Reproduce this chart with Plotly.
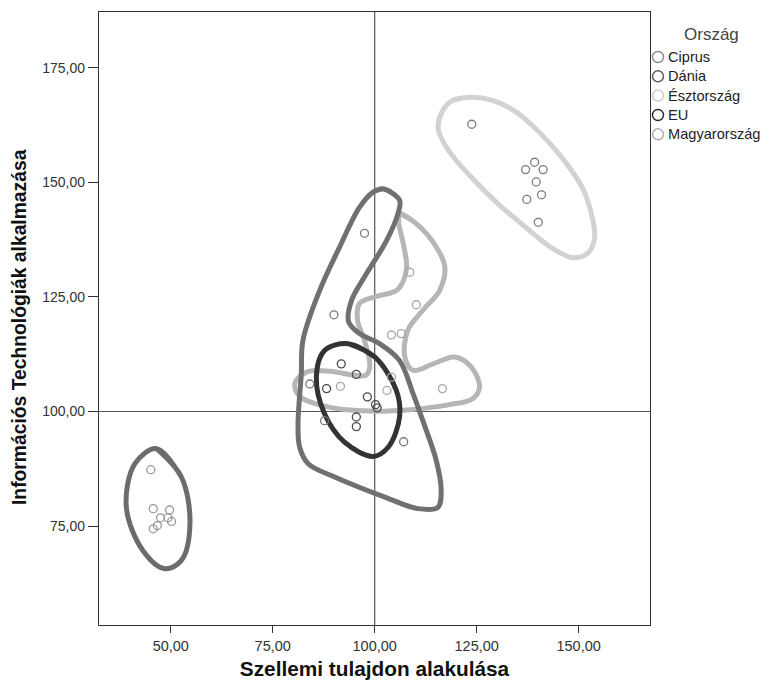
import plotly.graph_objects as go

# ---------------- data ----------------
series_names = ["Ciprus", "Dánia", "Észtország", "EU", "Magyarország"]
legend_colors = ["#8a8a8a", "#5a5a5a", "#c8c8c8", "#2a2a2a", "#ababab"]
point_colors = ["#9a9a9a", "#7a7a7a", "#7c7c7c", "#4a4a4a", "#a8a8a8"]
contour_colors = ["#6c6c6c", "#707070", "#d2d2d2", "#333333", "#b6b6b6"]

ciprus_x = [45.1, 45.7, 47.5, 49.7, 49.3, 45.7, 46.7, 50.2]
ciprus_y = [87.3, 78.8, 76.8, 78.5, 76.8, 74.4, 75.1, 76.0]

dania_x = [97.5, 90.0, 84.1, 87.7, 107.1]
dania_y = [138.9, 121.1, 106.0, 98.0, 93.4]

esztorszag_x = [123.8, 139.2, 137.0, 141.3, 139.6, 140.9, 137.3, 140.1]
esztorszag_y = [162.7, 154.4, 152.8, 152.8, 150.1, 147.3, 146.3, 141.3]

eu_x = [91.8, 95.5, 88.2, 98.2, 100.2, 100.6, 95.5, 95.5]
eu_y = [110.4, 108.1, 105.0, 103.2, 101.5, 100.8, 98.8, 96.7]

magyar_x = [108.6, 110.2, 104.1, 106.5, 104.1, 91.6, 103.0, 116.6]
magyar_y = [130.4, 123.3, 116.7, 117.0, 107.5, 105.5, 104.6, 105.0]

# contour outlines (data coordinates)
ciprus_cx = [46.5, 52.6, 54.7, 52.6, 48.5, 43.2, 39.1, 41.2]
ciprus_cy = [91.9, 85.7, 75.5, 67.5, 65.7, 69.6, 79.1, 88.6]

dania_cx = [99.6, 102.0, 106.1, 105.7, 102.9, 98.0, 94.3, 93.6, 96.3, 101.2, 106.1,
            109.4, 111.8, 115.1, 116.3, 115.5, 110.6, 102.5, 90.2, 83.7, 81.6, 81.2,
            82.0, 82.4, 86.5, 91.4, 96.3]
dania_cy = [147.9, 148.6, 146.1, 143.2, 137.3, 130.1, 124.2, 119.6, 117.0, 114.8, 111.1,
            103.9, 98.0, 89.3, 82.8, 79.1, 78.8, 81.3, 85.7, 88.6, 92.2, 97.3,
            108.2, 115.5, 126.4, 135.9, 144.6]

esztorszag_cx = [119.1, 123.3, 128.9, 134.8, 140.4, 146.1, 151.0, 153.4, 153.9, 152.2,
                 148.5, 143.6, 137.3, 129.9, 123.3, 118.4, 115.6, 116.4]
esztorszag_cy = [167.9, 168.6, 167.9, 165.3, 160.9, 155.2, 148.7, 142.1, 137.8, 134.5,
                 133.6, 135.6, 140.0, 145.6, 151.5, 156.6, 161.5, 165.2]

eu_cx = [93.5, 100.0, 105.3, 106.1, 103.3, 99.6, 92.6, 87.7, 85.7, 87.7]
eu_cy = [114.8, 111.9, 104.6, 98.8, 92.2, 90.2, 93.3, 99.5, 107.5, 113.3]

magyar_cx = [106.1, 110.2, 115.1, 117.2, 115.9, 111.8, 108.1, 107.4, 109.4, 114.3, 119.6,
             123.7, 125.7, 124.0, 118.4, 108.6, 98.8, 89.0, 81.6, 80.4, 83.3, 89.0, 95.1,
             97.8, 98.8, 97.5, 95.8, 96.3, 100.4, 105.6, 107.8, 107.1, 105.9]
magyar_cy = [143.2, 141.0, 135.9, 131.5, 126.4, 122.1, 117.7, 111.9, 109.0, 110.4, 111.9,
             109.7, 105.3, 102.8, 101.5, 100.4, 100.1, 100.9, 103.3, 106.1, 108.6, 108.8, 107.9,
             107.9, 109.8, 115.5, 119.9, 123.6, 125.1, 126.6, 131.2, 136.2, 141.3]

x_ticks = [50, 75, 100, 125, 150]
x_ticktext = ["50,00", "75,00", "100,00", "125,00", "150,00"]
y_ticks = [75, 100, 125, 150, 175]
y_ticktext = ["75,00", "100,00", "125,00", "150,00", "175,00"]
x_range = [32.4, 167.5]
y_range = [53.4, 187.2]
ref_x = 100
ref_y = 100
x_title = "Szellemi tulajdon alakulása"
y_title = "Információs Technológiák alkalmazása"
legend_title = "Ország"

points = [(ciprus_x, ciprus_y), (dania_x, dania_y), (esztorszag_x, esztorszag_y),
          (eu_x, eu_y), (magyar_x, magyar_y)]
contours = [(ciprus_cx, ciprus_cy), (dania_cx, dania_cy), (esztorszag_cx, esztorszag_cy),
            (eu_cx, eu_cy), (magyar_cx, magyar_cy)]

FONT = "Arial, Liberation Sans, sans-serif"
W, H = 771, 687
OFF = 8  # page body margin offset
ML, MT = 99 - OFF, 12 - OFF
MR = W - (650 - OFF)
MB = H - (625 - OFF)
PW, PH = W - ML - MR, H - MT - MB


def px2paper_x(px):
    return (px - OFF - ML) / PW


def px2paper_y(py):
    return (H - MB - (py - OFF)) / PH


fig = go.Figure()

# reference lines
fig.add_trace(go.Scatter(x=[ref_x, ref_x], y=y_range, mode="lines",
                         line=dict(color="#555555", width=1.2), showlegend=False, hoverinfo="skip"))
fig.add_trace(go.Scatter(x=x_range, y=[ref_y, ref_y], mode="lines",
                         line=dict(color="#555555", width=1.2), showlegend=False, hoverinfo="skip"))

# contours: draw lighter ones first
order = [2, 4, 0, 1, 3]
for i in order:
    cx, cy = contours[i]
    fig.add_trace(go.Scatter(x=list(cx) + [cx[0], cx[1]], y=list(cy) + [cy[0], cy[1]],
                             mode="lines", line=dict(color=contour_colors[i], width=5,
                                                     shape="spline", smoothing=1.0),
                             showlegend=False, hoverinfo="skip"))

for i, (px, py) in enumerate(points):
    fig.add_trace(go.Scatter(x=px, y=py, mode="markers", name=series_names[i],
                             marker=dict(symbol="circle-open", size=8, color=point_colors[i],
                                         line=dict(width=1.3)),
                             showlegend=False))

# ---- compact legend (SPSS style) ----
leg_px_x = 658
leg_text_x = 666
leg_py = [57, 76.3, 95.6, 115, 134.3]
r = 5.5
shapes = []
for col, p in zip(legend_colors, leg_py):
    shapes.append(dict(type="circle", xref="paper", yref="paper",
                       x0=px2paper_x(leg_px_x - r), x1=px2paper_x(leg_px_x + r),
                       y0=px2paper_y(p + r), y1=px2paper_y(p - r),
                       line=dict(color=col, width=1.4), fillcolor="rgba(0,0,0,0)"))

annotations = [dict(text=legend_title, xref="paper", yref="paper",
                    x=px2paper_x(711), y=px2paper_y(34), xanchor="center", yanchor="middle",
                    showarrow=False, font=dict(size=17, color="#444444", family=FONT))]
for name, p in zip(series_names, leg_py):
    annotations.append(dict(text=name, xref="paper", yref="paper",
                            x=px2paper_x(leg_text_x), y=px2paper_y(p),
                            xanchor="left", yanchor="middle", showarrow=False,
                            font=dict(size=14.6, color="#222222", family=FONT)))
# y axis title (slightly below the plot centre, as in the original)
annotations.append(dict(text="<b>" + y_title + "</b>", xref="paper", yref="paper",
                        x=px2paper_x(19), y=px2paper_y(327), xanchor="center", yanchor="middle",
                        textangle=-90, showarrow=False,
                        font=dict(size=19.3, color="#111111", family=FONT)))

fig.update_layout(
    width=W, height=H,
    margin=dict(l=ML, r=MR, t=MT, b=MB),
    paper_bgcolor="white", plot_bgcolor="white",
    font=dict(family=FONT, size=12, color="#222222"),
    showlegend=False,
    annotations=annotations,
    shapes=shapes,
    xaxis=dict(range=x_range, tickvals=x_ticks, ticktext=x_ticktext, ticks="outside",
               ticklen=7, tickcolor="#333333", showgrid=False, zeroline=False,
               showline=True, linecolor="#333333", linewidth=1.2, mirror=True,
               automargin=False,
               tickfont=dict(size=14.5, color="#333333"),
               title=dict(text="<b>" + x_title + "</b>", font=dict(size=20.8, color="#111111"),
                          standoff=8)),
    yaxis=dict(range=y_range, tickvals=y_ticks, ticktext=y_ticktext, ticks="outside",
               ticklen=10, tickcolor="#333333", showgrid=False, zeroline=False,
               showline=True, linecolor="#333333", linewidth=1.2, mirror=True,
               automargin=False,
               tickfont=dict(size=14, color="#333333")),
)

fig.write_html("out.html")
